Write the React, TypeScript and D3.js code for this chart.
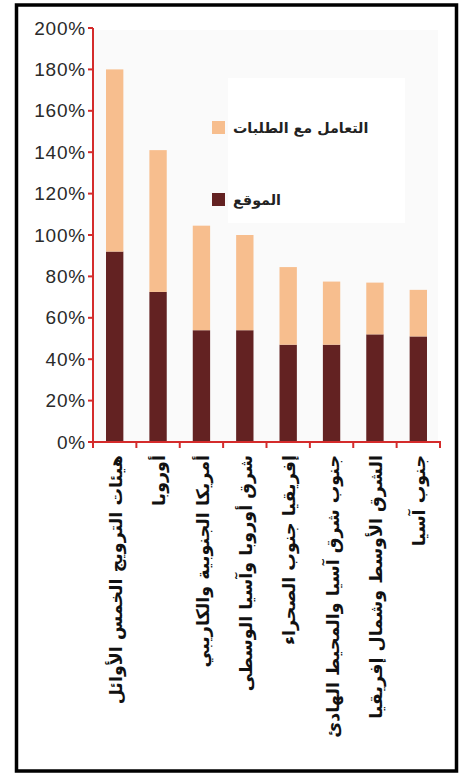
import React from "react"
import * as d3 from "d3"

const regions = [
    "هيئات الترويج الخمس الأوائل",
    "أوروبا",
    "أمريكا الجنوبية والكاريبي",
    "شرق أوروبا وآسيا الوسطى",
    "إفريقيا جنوب الصحراء",
    "جنوب شرق آسيا والمحيط الهادئ",
    "الشرق الأوسط وشمال إفريقيا",
    "جنوب آسيا",
]
// الموقع (bottom, dark)
const siteValues = [92, 72.5, 54, 54, 47, 47, 52, 51]
// التعامل مع الطلبات (top, light)
const handlingValues = [88, 68.5, 50.5, 46, 37.5, 30.5, 25, 22.5]
const seriesNames = ["الموقع", "التعامل مع الطلبات"]
const yTicks = [0, 20, 40, 60, 80, 100, 120, 140, 160, 180, 200]

const W = 462
const H = 773
const axisColor = "#d42b2b"
const colors = ["#632222", "#f7be8e"]

export default function App() {
    const x = d3
        .scaleBand<string>()
        .domain(regions)
        .range([93, 440])
        .paddingInner(0.6)
        .paddingOuter(0.3)
    const y = d3.scaleLinear().domain([0, 200]).range([442, 28])

    const rows = regions.map((r, i) => ({
        region: r,
        site: siteValues[i],
        handling: handlingValues[i],
    }))
    const stacked = d3.stack<any>().keys(["site", "handling"])(rows)

    const step = x.step()
    const xTicks = regions.map(r => (x(r) as number) - (step * 0.6) / 2)
    xTicks.push(x.range()[1])

    return (
        <svg
            width={W}
            height={H}
            style={{ position: "absolute", left: 0, top: 0, background: "#fff" }}
        >
            <rect x={16.5} y={5} width={440} height={766} fill="#fff" stroke="#000" strokeWidth={3.5} />
            <rect x={93} y={30} width={345} height={412} fill="#fafafa" />

            {stacked.map((s, si) => (
                <g key={si} fill={colors[si]}>
                    {s.map((d, i) => (
                        <rect
                            key={i}
                            x={x(regions[i])}
                            width={x.bandwidth()}
                            y={y(d[1])}
                            height={y(d[0]) - y(d[1])}
                        />
                    ))}
                </g>
            ))}

            {/* legend */}
            <rect x={228} y={78} width={177} height={145} fill="#fff" />
            {[1, 0].map((si, k) => (
                <g key={si} transform={`translate(212, ${k === 0 ? 121 : 193})`}>
                    <rect width={13} height={13} fill={colors[si]} />
                    <text
                        x={21}
                        y={6.5}
                        dy="0.35em"
                        fontFamily="DejaVu Sans"
                        fontWeight="bold"
                        fontSize={14.3}
                        fill="#222"
                    >
                        {seriesNames[si]}
                    </text>
                </g>
            ))}

            {/* y axis */}
            <line x1={93} x2={93} y1={y(200)} y2={y(0)} stroke={axisColor} strokeWidth={2} />
            {yTicks.map(t => (
                <g key={t} transform={`translate(0, ${y(t)})`}>
                    <line x1={88} x2={93} stroke={axisColor} strokeWidth={2} />
                    <text
                        x={86}
                        dy="0.35em"
                        textAnchor="end"
                        fontFamily="Liberation Sans, Arial, sans-serif"
                        fontSize={19}
                        letterSpacing={0.8}
                        fill="#2a2a2a"
                    >
                        {t}%
                    </text>
                </g>
            ))}

            {/* x axis */}
            <line x1={92} x2={441} y1={y(0)} y2={y(0)} stroke={axisColor} strokeWidth={2} />
            {xTicks.map((t, i) => (
                <line key={i} x1={t} x2={t} y1={y(0)} y2={y(0) + 6} stroke={axisColor} strokeWidth={2} />
            ))}
            {regions.map(r => (
                <text
                    key={r}
                    transform={`translate(${(x(r) as number) + x.bandwidth() / 2 + 1}, 455) rotate(-90)`}
                    dy="0.35em"
                    textAnchor="end"
                    fontFamily="DejaVu Sans"
                    fontWeight="bold"
                    fontSize={17.5}
                    fill="#111"
                >
                    {r}
                </text>
            ))}
        </svg>
    )
}
